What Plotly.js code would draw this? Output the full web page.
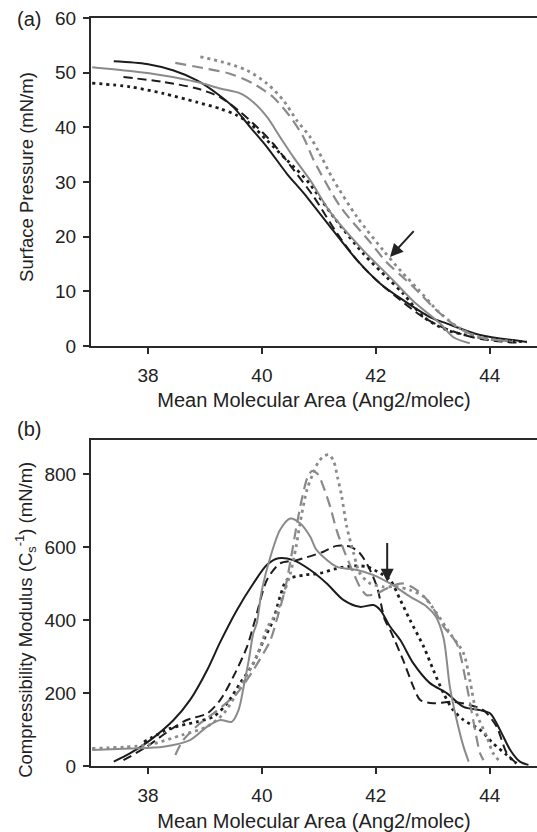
<!DOCTYPE html>
<html>
<head>
<meta charset="utf-8">
<script src="https://cdn.plot.ly/plotly-3.0.1.min.js"></script>
<style>html,body{margin:0;padding:0;background:#fff;}#chart{width:537px;height:832px;}</style>
</head>
<body>
<div id="chart"></div>
<script>
// ---------- Panel (a): Surface pressure isotherms ----------
const aBlackSolidX = [37.40, 37.98, 38.45, 38.86, 39.21, 39.50, 39.79, 40.09, 40.44, 40.73, 41.20, 41.67, 42.08, 42.48, 42.95, 43.25, 43.83, 44.65];
const aBlackSolidY = [52.1, 51.6, 50.4, 48.6, 46.2, 43.7, 40.1, 36.4, 31.5, 28.0, 21.8, 15.7, 11.4, 8.4, 5.3, 4.1, 2.0, 0.75];

const aBlackDashX = [37.57, 38.27, 38.86, 39.27, 39.62, 39.91, 40.20, 40.50, 40.91, 41.32, 41.72, 42.08, 42.43, 42.80, 43.20, 43.70, 44.20, 44.55];
const aBlackDashY = [49.2, 48.3, 47.1, 45.5, 42.8, 40.1, 37.0, 33.0, 27.3, 20.6, 15.1, 11.4, 8.4, 5.5, 3.3, 1.6, 0.8, 0.6];

const aBlackDotX = [37.02, 37.69, 38.27, 38.86, 39.27, 39.56, 39.79, 40.09, 40.44, 40.79, 41.26, 41.78, 42.19, 42.48, 42.84, 43.25, 43.83, 44.65];
const aBlackDotY = [48.1, 47.4, 46.2, 44.6, 43.4, 42.2, 40.7, 37.6, 34.0, 30.3, 23.6, 16.9, 12.6, 9.6, 5.3, 2.9, 1.55, 0.75];

const aGraySolidX = [37.02, 37.69, 38.27, 38.86, 39.27, 39.62, 39.85, 40.09, 40.32, 40.55, 40.85, 41.20, 41.78, 42.25, 42.66, 43.13, 43.36, 43.65];
const aGraySolidY = [51.0, 50.3, 49.5, 48.3, 47.1, 46.2, 44.6, 41.9, 38.2, 34.6, 30.3, 24.5, 17.5, 12.6, 8.2, 4.1, 1.6, 0.5];

const aGrayDashX = [38.48, 39.04, 39.44, 39.85, 40.20, 40.50, 40.73, 40.91, 41.37, 41.90, 42.19, 42.43, 42.66, 43.07, 43.42, 43.83, 44.12, 44.30];
const aGrayDashY = [51.8, 50.7, 49.8, 48.0, 45.5, 41.9, 38.2, 34.0, 25.6, 19.0, 15.3, 13.0, 10.8, 6.5, 3.5, 1.55, 1.1, 0.9];

const aGrayDotX = [38.92, 39.33, 39.74, 40.09, 40.38, 40.61, 40.85, 41.00, 41.25, 41.67, 42.13, 42.45, 42.75, 43.10, 43.45, 43.85, 44.41];
const aGrayDotY = [52.9, 51.9, 50.4, 48.0, 44.9, 41.3, 38.2, 35.5, 30.5, 23.6, 17.5, 13.6, 10.3, 6.3, 3.4, 1.5, 0.9];

// ---------- Panel (b): Compressibility modulus ----------
const bBlackSolidX = [37.40, 37.69, 38.04, 38.45, 38.74, 39.04, 39.27, 39.56, 39.85, 40.09, 40.29, 40.55, 40.85, 41.14, 41.43, 41.72, 41.96, 42.08, 42.25, 42.43, 42.66, 42.95, 43.25, 43.54, 43.83, 44.01, 44.18, 44.36, 44.53, 44.68];
const bBlackSolidY = [12, 35, 71, 126, 181, 263, 340, 427, 500, 551, 569, 564, 537, 500, 455, 436, 441, 427, 382, 345, 281, 227, 199, 162, 153, 144, 99, 44, 12, 3];

const bBlackDashX = [37.57, 37.98, 38.39, 38.68, 39.04, 39.27, 39.50, 39.74, 39.88, 40.09, 40.32, 40.61, 41.08, 41.31, 41.55, 41.72, 41.87, 42.02, 42.16, 42.25, 42.48, 42.66, 42.78, 43.01, 43.36, 43.65, 43.89, 44.12, 44.30, 44.47];
const bBlackDashY = [16, 53, 99, 126, 144, 181, 245, 327, 400, 510, 555, 564, 587, 603, 601, 583, 546, 491, 400, 373, 290, 217, 181, 172, 176, 167, 153, 108, 35, 7];

const bBlackDotX = [37.93, 38.39, 38.86, 39.15, 39.39, 39.62, 39.85, 40.03, 40.20, 40.32, 40.44, 40.73, 41.02, 41.31, 41.61, 41.84, 42.08, 42.25, 42.43, 42.60, 42.84, 43.01, 43.19, 43.36, 43.54, 43.83, 44.06, 44.30, 44.47];
const bBlackDotY = [66, 103, 121, 135, 172, 227, 281, 345, 400, 464, 510, 523, 528, 541, 548, 546, 528, 510, 455, 400, 327, 263, 199, 153, 126, 99, 62, 30, 7];

const bGraySolidX = [37.02, 37.69, 38.27, 38.74, 39.04, 39.27, 39.47, 39.59, 39.68, 39.77, 39.85, 39.91, 40.00, 40.15, 40.32, 40.50, 40.67, 40.85, 40.96, 41.31, 41.67, 41.96, 42.25, 42.60, 42.89, 43.05, 43.19, 43.30, 43.42, 43.54, 43.63];
const bGraySolidY = [44, 48, 53, 71, 108, 126, 121, 153, 217, 290, 364, 391, 482, 573, 647, 678, 665, 628, 592, 546, 537, 523, 500, 464, 437, 410, 350, 217, 126, 53, 12];

const bGrayDashX = [38.48, 38.62, 38.90, 39.15, 39.56, 39.85, 40.15, 40.26, 40.40, 40.50, 40.60, 40.70, 40.80, 40.88, 40.98, 41.08, 41.20, 41.31, 41.46, 41.61, 41.72, 41.84, 42.02, 42.25, 42.48, 42.72, 42.95, 43.19, 43.42, 43.60, 43.71, 43.83, 43.89];
const bGrayDashY = [30, 71, 115, 144, 199, 263, 345, 400, 480, 560, 650, 730, 790, 808, 800, 765, 710, 647, 583, 528, 491, 468, 473, 491, 500, 482, 446, 382, 336, 217, 126, 35, 16];

const bGrayDotX = [37.02, 38.00, 38.60, 39.04, 39.33, 39.62, 39.91, 40.10, 40.26, 40.40, 40.50, 40.60, 40.67, 40.79, 40.90, 41.00, 41.10, 41.18, 41.26, 41.33, 41.40, 41.49, 41.61, 41.72, 41.90, 42.13, 42.37, 42.60, 42.84, 43.07, 43.30, 43.54, 43.65, 43.77, 43.95, 44.06, 44.18];
const bGrayDotY = [48, 58, 85, 108, 144, 217, 300, 380, 420, 480, 528, 600, 665, 756, 802, 835, 850, 853, 835, 790, 740, 656, 583, 528, 500, 491, 491, 482, 464, 418, 364, 309, 236, 144, 80, 35, 12];

// Tick values / labels
const xTicks = [38, 40, 42, 44];
const aYTicks = [0, 10, 20, 30, 40, 50, 60];
const bYTicks = [0, 200, 400, 600, 800];

const BLACK = '#1c1c1c';
const GRAY = '#8a8a8a';
const FONT = 'Liberation Sans, Arial, sans-serif';

function tr(x, y, color, dash, width, xa, ya) {
  return {x: x, y: y, type: 'scatter', mode: 'lines', xaxis: xa, yaxis: ya,
    line: {color: color, dash: dash, width: width, shape: 'spline', smoothing: 0.8},
    showlegend: false, hoverinfo: 'skip'};
}

const data = [
  tr(aBlackSolidX, aBlackSolidY, BLACK, 'solid', 2, 'x', 'y'),
  tr(aBlackDashX, aBlackDashY, BLACK, '9px,5px', 2, 'x', 'y'),
  tr(aBlackDotX, aBlackDotY, BLACK, '3px,4px', 2.8, 'x', 'y'),
  tr(aGraySolidX, aGraySolidY, GRAY, 'solid', 2, 'x', 'y'),
  tr(aGrayDashX, aGrayDashY, GRAY, '11px,6px', 2.2, 'x', 'y'),
  tr(aGrayDotX, aGrayDotY, GRAY, '3px,4px', 2.8, 'x', 'y'),
  tr(bBlackSolidX, bBlackSolidY, BLACK, 'solid', 2, 'x2', 'y2'),
  tr(bBlackDashX, bBlackDashY, BLACK, '9px,5px', 2, 'x2', 'y2'),
  tr(bBlackDotX, bBlackDotY, BLACK, '3px,4px', 2.8, 'x2', 'y2'),
  tr(bGraySolidX, bGraySolidY, GRAY, 'solid', 2, 'x2', 'y2'),
  tr(bGrayDashX, bGrayDashY, GRAY, '11px,6px', 2.2, 'x2', 'y2'),
  tr(bGrayDotX, bGrayDotY, GRAY, '3px,4px', 2.8, 'x2', 'y2')
];

const xRange = [37.0, 44.83];
const axCommon = {
  showline: true, linecolor: '#2a2a2a', linewidth: 2,
  ticks: 'outside', ticklen: 6, tickwidth: 2, tickcolor: '#2a2a2a',
  showgrid: false, zeroline: false,
  tickfont: {family: FONT, size: 19, color: '#222'}
};
const TITLEFONT = {family: FONT, size: 20, color: '#222'};
const YTITLEFONT = {family: FONT, size: 18.5, color: '#222'};

const layout = {
  width: 537, height: 832,
  margin: {l: 91, r: 0, t: 18, b: 66},
  paper_bgcolor: '#fff', plot_bgcolor: '#fff',
  font: {family: FONT, color: '#222'},
  xaxis: Object.assign({}, axCommon, {domain: [0, 1], anchor: 'y', range: xRange, tickvals: xTicks, ticktext: xTicks.map(String), mirror: true,
    ticklabelstandoff: 5,
    title: {text: 'Mean Molecular Area (Ang2/molec)', font: TITLEFONT, standoff: 8}}),
  yaxis: Object.assign({}, axCommon, {domain: [0.5615, 1], anchor: 'x', range: [0, 60], tickvals: aYTicks, ticktext: aYTicks.map(String),
    ticklabelstandoff: 3}),
  xaxis2: Object.assign({}, axCommon, {domain: [0, 1], anchor: 'y2', range: xRange, tickvals: xTicks, ticktext: xTicks.map(String), mirror: true,
    ticklabelstandoff: 5,
    title: {text: 'Mean Molecular Area (Ang2/molec)', font: TITLEFONT, standoff: 10}}),
  yaxis2: Object.assign({}, axCommon, {domain: [0, 0.4358], anchor: 'x2', range: [0, 893], tickvals: bYTicks, ticktext: bYTicks.map(String),
    ticklabelstandoff: 3}),
  annotations: [
    {text: '(a)', xref: 'paper', yref: 'paper', x: -0.139, y: 1.0, xanchor: 'center', yanchor: 'middle', showarrow: false,
      font: TITLEFONT, yshift: -1},
    {text: '(b)', xref: 'paper', yref: 'paper', x: -0.139, y: 0.4358, xanchor: 'center', yanchor: 'middle', showarrow: false,
      font: TITLEFONT, yshift: 11},
    {text: 'Surface Pressure (mN/m)', xref: 'paper', yref: 'paper', x: -0.146, y: 0.7874, xanchor: 'center', yanchor: 'middle',
      textangle: -90, showarrow: false, font: YTITLEFONT},
    {text: 'Compressibility Modulus (C<sub>s</sub><sup>-1</sup>) (mN/m)', xref: 'paper', yref: 'paper', x: -0.146, y: 0.1952,
      xanchor: 'center', yanchor: 'middle', textangle: -90, showarrow: false, font: YTITLEFONT},
    {x: 42.25, y: 16.3, ax: 42.69, ay: 21.3, xref: 'x', yref: 'y', axref: 'x', ayref: 'y',
      showarrow: true, arrowhead: 2, arrowsize: 1.3, arrowwidth: 2, arrowcolor: '#222', text: ''},
    {x: 42.2, y: 505, ax: 42.2, ay: 615, xref: 'x2', yref: 'y2', axref: 'x2', ayref: 'y2',
      showarrow: true, arrowhead: 2, arrowsize: 1.3, arrowwidth: 2, arrowcolor: '#222', text: ''}
  ]
};

Plotly.newPlot('chart', data, layout, {staticPlot: true, displayModeBar: false});
</script>
</body>
</html>
